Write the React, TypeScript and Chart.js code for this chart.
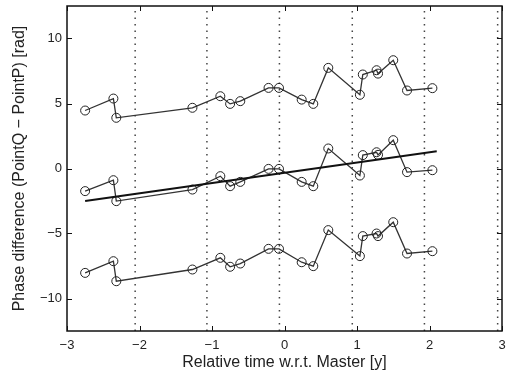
import React, { useEffect, useRef } from "react";
import { Chart, registerables } from "chart.js";

Chart.register(...registerables);

const times = [-2.75, -2.36, -2.32, -1.27, -0.885, -0.75, -0.61, -0.22, -0.076, 0.237, 0.397, 0.604, 1.04, 1.08, 1.27, 1.29, 1.5, 1.69, 2.04];
const upperSeries = [4.46, 5.38, 3.9, 4.67, 5.56, 4.97, 5.18, 6.2, 6.2, 5.3, 4.97, 7.74, 5.67, 7.23, 7.56, 7.3, 8.33, 6.0, 6.18];
const middleSeries = [-1.74, -0.9, -2.51, -1.62, -0.59, -1.36, -1.03, -0.03, -0.03, -1.03, -1.36, 1.54, -0.54, 1.03, 1.25, 1.05, 2.18, -0.28, -0.13];
const lowerSeries = [-8.03, -7.13, -8.67, -7.77, -6.87, -7.56, -7.31, -6.18, -6.18, -7.21, -7.51, -4.74, -6.74, -5.2, -5.0, -5.2, -4.13, -6.54, -6.36];
const fitX = [-2.75, 2.1];
const fitY = [-2.5, 1.33];
const epochLines = [-2.06, -1.07, -0.07, 0.935, 1.93, 2.94];
const xTicks = [-3, -2, -1, 0, 1, 2, 3];
const yTicks = [-10, -5, 0, 5, 10];

const fmt = (v: number) => (v < 0 ? "\u2212" + Math.abs(v) : String(v));

const frame = {
  id: "frame",
  afterDatasetsDraw(chart: any) {
    const { ctx, chartArea: a, scales } = chart;
    ctx.save();
    ctx.strokeStyle = "#111";
    ctx.lineWidth = 1.5;
    ctx.strokeRect(a.left, a.top, a.right - a.left, a.bottom - a.top);
    ctx.lineWidth = 1;
    const t = 5;
    ctx.beginPath();
    xTicks.forEach((v) => {
      const px = Math.round(scales.x.getPixelForValue(v)) + 0.5;
      ctx.moveTo(px, a.bottom);
      ctx.lineTo(px, a.bottom - t);
      ctx.moveTo(px, a.top);
      ctx.lineTo(px, a.top + t);
    });
    yTicks.forEach((v) => {
      const py = Math.round(scales.y.getPixelForValue(v)) + 0.5;
      ctx.moveTo(a.left, py);
      ctx.lineTo(a.left + t, py);
      ctx.moveTo(a.right, py);
      ctx.lineTo(a.right - t, py);
    });
    ctx.stroke();
    ctx.restore();
  },
};

export default function App() {
  const ref = useRef<HTMLCanvasElement>(null);
  useEffect(() => {
    document.body.style.margin = "0";
    const mk = (ys: number[]) => times.map((x, i) => ({ x, y: ys[i] }));
    const seriesStyle = {
      showLine: true,
      borderColor: "#333",
      borderWidth: 1.3,
      pointRadius: 4.5,
      pointBackgroundColor: "rgba(0,0,0,0)",
      pointBorderColor: "#222",
      pointBorderWidth: 1,
      order: 2,
    };
    const datasets: any[] = [
      { label: "upper", data: mk(upperSeries), ...seriesStyle },
      { label: "middle", data: mk(middleSeries), ...seriesStyle },
      { label: "lower", data: mk(lowerSeries), ...seriesStyle },
      {
        label: "fit",
        data: fitX.map((x, i) => ({ x, y: fitY[i] })),
        showLine: true,
        borderColor: "#111",
        borderWidth: 2,
        pointRadius: 0,
        order: 1,
      },
      ...epochLines.map((x) => ({
        label: "epoch",
        data: [
          { x, y: -12.5 },
          { x, y: 12.5 },
        ],
        showLine: true,
        borderColor: "#444",
        borderWidth: 1.5,
        borderDash: [1.5, 5],
        pointRadius: 0,
        order: 10,
      })),
    ];
    const chart = new Chart(ref.current!, {
      type: "scatter",
      data: { datasets },
      options: {
        animation: false,
        responsive: false,
        devicePixelRatio: 1,
        layout: { padding: { left: 0, right: 7, top: 6, bottom: 0 } },
        plugins: { legend: { display: false }, tooltip: { enabled: false } },
        scales: {
          x: {
            type: "linear",
            min: -3,
            max: 3,
            afterBuildTicks: (s: any) => {
              s.ticks = xTicks.map((v) => ({ value: v }));
            },
            afterFit: (s: any) => {
              s.height = 43;
              s.paddingLeft = 0;
              s.paddingRight = 0;
            },
            grid: { display: false, drawTicks: false },
            border: { display: false },
            ticks: {
              color: "#222",
              font: { family: "Liberation Sans", size: 13 },
              padding: 7,
              maxRotation: 0,
              callback: (v: any) => fmt(Number(v)),
            },
            title: {
              display: true,
              text: "Relative time w.r.t. Master [y]",
              color: "#222",
              font: { family: "Liberation Sans", size: 16 },
              padding: { top: 0, bottom: 1.5 },
            },
          },
          y: {
            type: "linear",
            min: -12.5,
            max: 12.5,
            afterBuildTicks: (s: any) => {
              s.ticks = yTicks.map((v) => ({ value: v }));
            },
            afterFit: (s: any) => {
              s.width = 67;
              s.paddingTop = 0;
              s.paddingBottom = 0;
            },
            grid: { display: false, drawTicks: false },
            border: { display: false },
            ticks: {
              color: "#222",
              font: { family: "Liberation Sans", size: 13 },
              padding: 5,
              callback: (v: any) => fmt(Number(v)),
            },
            title: {
              display: true,
              text: "Phase difference (PointQ \u2212 PointP) [rad]",
              color: "#222",
              font: { family: "Liberation Sans", size: 16 },
              padding: { top: 9.5, bottom: 0 },
            },
          },
        },
      },
      plugins: [frame],
    });
    return () => chart.destroy();
  }, []);
  return <canvas ref={ref} width={509} height={374} />;
}
